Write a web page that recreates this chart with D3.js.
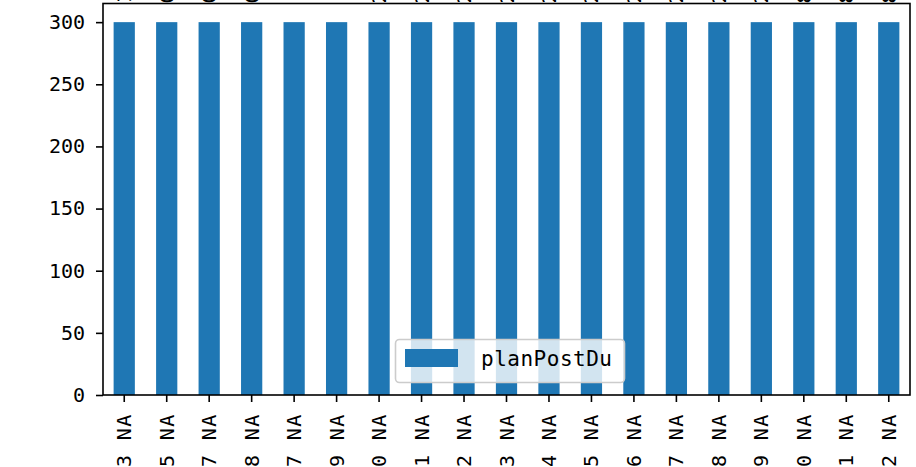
<!DOCTYPE html>
<html>
<head>
<meta charset="utf-8">
<script src="https://cdn.jsdelivr.net/npm/d3@7"></script>
<style>
  html, body { margin: 0; padding: 0; background: #fff; }
  svg { display: block; }
  text { font-family: "DejaVu Sans Mono", monospace; fill: #000; }
</style>
</head>
<body>
<svg id="chart" width="916" height="467"></svg>
<script>
// ---- data ----
const categories = ["3 NA","5 NA","7 NA","8 NA","7 NA","9 NA","0 NA","1 NA","2 NA","3 NA",
                    "4 NA","5 NA","6 NA","7 NA","8 NA","9 NA","0 NA","1 NA","2 NA"];
const planPostDu = [300,300,300,300,300,300,300,300,300,300,300,300,300,300,300,300,300,300,300];
const topLabels = ["1","0","0","0","-","-","2","2","2","2","2","2","2","2","2","2","8","8","8"];
const yTicks = [0,50,100,150,200,250,300];
const seriesName = "planPostDu";

const svg = d3.select("#chart");
const L = 103, R = 910, T = 3.5, B = 395;
const color = "#1f77b4";

const x = d3.scaleBand().domain(d3.range(categories.length)).range([L, R])
  .paddingInner(0.5).paddingOuter(0.25);
const y = d3.scaleLinear().domain([0, 315]).range([B, T]);

// bars
svg.append("g").selectAll("rect").data(planPostDu).enter().append("rect")
  .attr("x", (d, i) => x(i))
  .attr("width", x.bandwidth())
  .attr("y", d => y(d))
  .attr("height", d => y(0) - y(d))
  .attr("fill", color);

// clipped labels from above (top edge)
svg.append("g").selectAll("text").data(topLabels).enter().append("text")
  .attr("transform", (d, i) => `translate(${x(i) + x.bandwidth() / 2},3.5) rotate(-90)`)
  .attr("dy", "0.35em")
  .attr("text-anchor", "start")
  .style("font-size", "20px")
  .text(d => d + "000000");

// y axis
const yAxis = d3.axisLeft(y).tickValues(yTicks).tickSize(7).tickPadding(11).tickFormat(d3.format("d"));
const gy = svg.append("g").attr("transform", `translate(${L},0)`).call(yAxis);
gy.select(".domain").remove();
gy.selectAll("line").attr("stroke", "#000").attr("stroke-width", 1.6);
gy.selectAll("text").style("font-size", "20px").style("font-family", "'DejaVu Sans Mono', monospace");

// x axis
const xAxis = d3.axisBottom(x).tickSize(7).tickPadding(0).tickFormat(i => categories[i]);
const gx = svg.append("g").attr("transform", `translate(0,${B})`).call(xAxis);
gx.select(".domain").remove();
gx.selectAll("line").attr("stroke", "#000").attr("stroke-width", 1.6);
gx.selectAll("text")
  .style("font-size", "20px")
  .style("font-family", "'DejaVu Sans Mono', monospace")
  .style("letter-spacing", "1.3px")
  .attr("text-anchor", "end")
  .attr("transform", "translate(0,18.5) rotate(-90)")
  .attr("x", 0).attr("y", 0).attr("dy", "0.35em");

// frame
svg.append("rect").attr("x", L).attr("y", T).attr("width", R - L).attr("height", B - T)
  .attr("fill", "none").attr("stroke", "#000").attr("stroke-width", 1.6);

// legend
const lg = svg.append("g");
lg.append("rect").attr("x", 395.5).attr("y", 339.5).attr("width", 229).attr("height", 43)
  .attr("rx", 4).attr("fill", "#fff").attr("fill-opacity", 0.8)
  .attr("stroke", "#ccc").attr("stroke-width", 1.6);
lg.append("rect").attr("x", 405).attr("y", 349).attr("width", 53).attr("height", 18).attr("fill", color);
lg.append("text").attr("x", 481).attr("y", 366).style("font-size", "21px")
  .attr("textLength", 131).attr("lengthAdjust", "spacing").text(seriesName);
</script>
</body>
</html>
